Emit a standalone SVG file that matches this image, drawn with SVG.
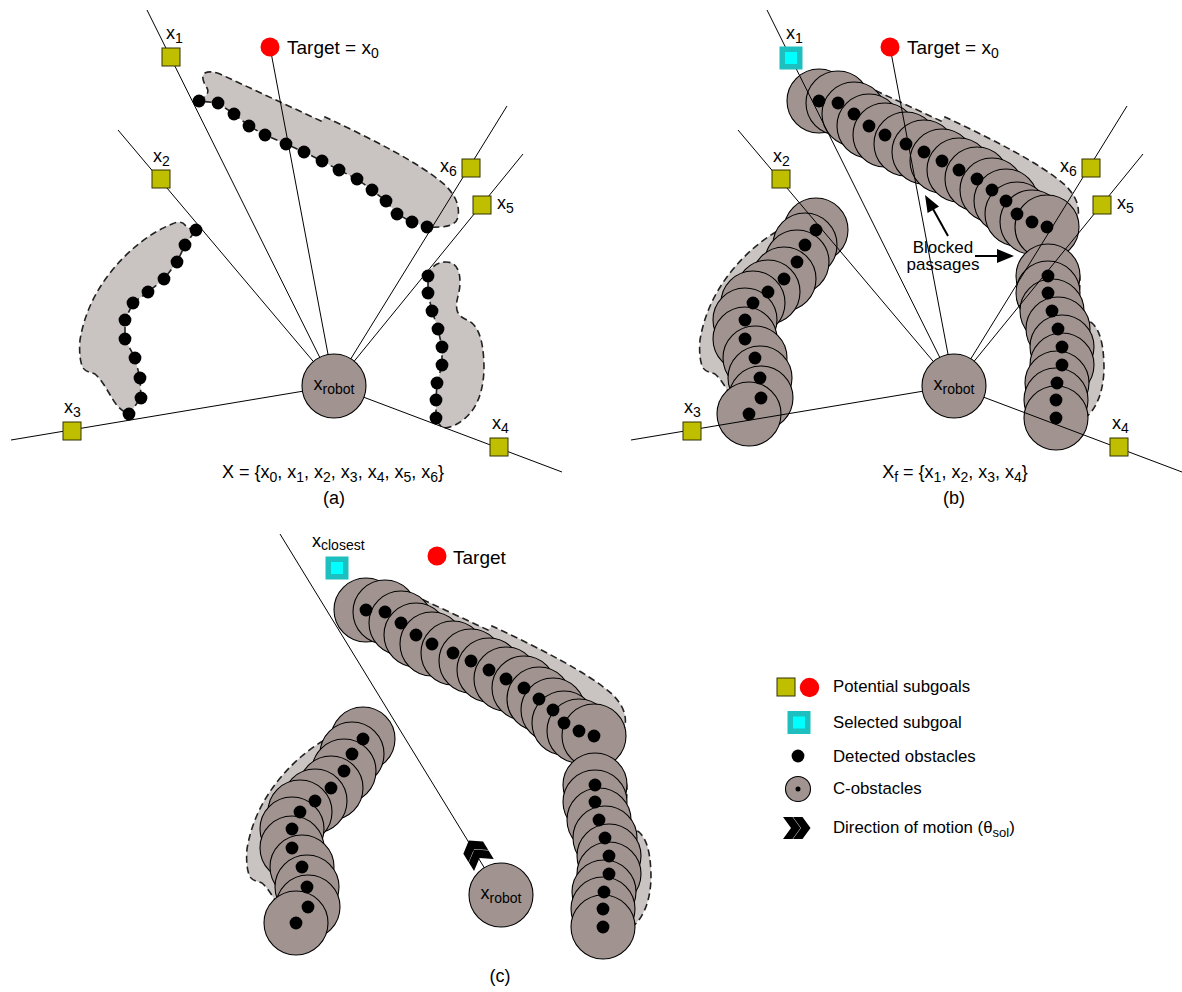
<svg xmlns="http://www.w3.org/2000/svg" width="1182" height="992" viewBox="0 0 1182 992">
<style>
text{font-family:"Liberation Sans",Arial,sans-serif;fill:#000}
.lbl{font-size:18px}
.sub{font-size:14px}
.leg{font-size:16.8px}
.ray{stroke:#000;stroke-width:1;fill:none}
.sg{fill:#bfbf00;stroke:#333300;stroke-width:1}
.sel{fill:#1dbfbf}
.selin{fill:#00ffff}
.tgt{fill:#ff0000}
.dots circle{fill:#000}
.cobs circle,.cob{fill:#a19490;stroke:#000;stroke-width:1.1}
.robot{fill:#a19490;stroke:#000;stroke-width:1.1}
.reg{fill:#c9c4c1;stroke:#222;stroke-width:1.6;stroke-dasharray:7 4}
.arr{stroke:#000;stroke-width:2;fill:none}
</style>
<defs>
<g id="regions">
<path class="reg" d="M199,101 C205,97 210,93 207,88 C203,82 201,76 205,73 C209,71 214,72 220,74 L321,121 L325,117 C370,138 420,163 445,185 C455,195 460,205 458,217 C456,225 448,228 427,227 L412,222 L397,214 L386,201 L372,190 L357,179 L339,170 L322,161 L304,152 L286,144 L265,135 L249,126 L234,114 L218,103 Z"/>
<path class="reg" d="M196,230 C191,229 187,228 185,225 C183,222 178,221 172,224 C150,233 128,250 110,273 C95,292 84,315 80,340 C79,352 80,362 83,368 C86,372 90,372 95,374 C102,380 107,390 112,398 C116,405 121,411 129,414 L141,398 L140,378 L135,358 L125,339 L125,320 L133,303 L148,292 L164,279 L177,262 L185,245 Z"/>
<path class="reg" d="M428,276 C430,268 436,262 446,262 C456,262 460,270 460,282 C460,295 455,300 457,310 C459,318 465,318 472,323 C480,330 484,345 484,370 C483,395 475,415 455,425 C447,429 440,430 436,418 L436,400 L437,383 L442,365 L442,347 L438,329 L432,311 L428,293 Z"/>
</g>
<g id="dots" class="dots">
<circle cx="199" cy="101" r="6.4"/><circle cx="218" cy="103" r="6.4"/><circle cx="234" cy="114" r="6.4"/><circle cx="249" cy="126" r="6.4"/><circle cx="265" cy="135" r="6.4"/><circle cx="286" cy="144" r="6.4"/><circle cx="304" cy="152" r="6.4"/><circle cx="322" cy="161" r="6.4"/><circle cx="339" cy="170" r="6.4"/><circle cx="357" cy="179" r="6.4"/><circle cx="372" cy="190" r="6.4"/><circle cx="386" cy="201" r="6.4"/><circle cx="397" cy="214" r="6.4"/><circle cx="412" cy="222" r="6.4"/><circle cx="427" cy="227" r="6.4"/>
<circle cx="196" cy="230" r="6.4"/><circle cx="185" cy="245" r="6.4"/><circle cx="177" cy="262" r="6.4"/><circle cx="164" cy="279" r="6.4"/><circle cx="148" cy="292" r="6.4"/><circle cx="133" cy="303" r="6.4"/><circle cx="125" cy="320" r="6.4"/><circle cx="125" cy="339" r="6.4"/><circle cx="135" cy="358" r="6.4"/><circle cx="140" cy="378" r="6.4"/><circle cx="141" cy="398" r="6.4"/><circle cx="129" cy="414" r="6.4"/>
<circle cx="428" cy="276" r="6.4"/><circle cx="428" cy="293" r="6.4"/><circle cx="432" cy="311" r="6.4"/><circle cx="438" cy="329" r="6.4"/><circle cx="442" cy="347" r="6.4"/><circle cx="442" cy="365" r="6.4"/><circle cx="437" cy="383" r="6.4"/><circle cx="436" cy="400" r="6.4"/><circle cx="436" cy="418" r="6.4"/>
</g>
<g id="cobs" class="cobs">
<circle cx="196" cy="230" r="32"/><circle cx="185" cy="245" r="32"/><circle cx="177" cy="262" r="32"/><circle cx="164" cy="279" r="32"/><circle cx="148" cy="292" r="32"/><circle cx="133" cy="303" r="32"/><circle cx="125" cy="320" r="32"/><circle cx="125" cy="339" r="32"/><circle cx="135" cy="358" r="32"/><circle cx="140" cy="378" r="32"/><circle cx="141" cy="398" r="32"/><circle cx="129" cy="414" r="32"/>
<circle cx="199" cy="101" r="32"/><circle cx="218" cy="103" r="32"/><circle cx="234" cy="114" r="32"/><circle cx="249" cy="126" r="32"/><circle cx="265" cy="135" r="32"/><circle cx="286" cy="144" r="32"/><circle cx="304" cy="152" r="32"/><circle cx="322" cy="161" r="32"/><circle cx="339" cy="170" r="32"/><circle cx="357" cy="179" r="32"/><circle cx="372" cy="190" r="32"/><circle cx="386" cy="201" r="32"/><circle cx="397" cy="214" r="32"/><circle cx="412" cy="222" r="32"/><circle cx="427" cy="227" r="32"/>
<circle cx="428" cy="276" r="32"/><circle cx="428" cy="293" r="32"/><circle cx="432" cy="311" r="32"/><circle cx="438" cy="329" r="32"/><circle cx="442" cy="347" r="32"/><circle cx="442" cy="365" r="32"/><circle cx="437" cy="383" r="32"/><circle cx="436" cy="400" r="32"/><circle cx="436" cy="418" r="32"/>
</g>
<g id="rays">
<line class="ray" x1="334" y1="386" x2="147" y2="10"/>
<line class="ray" x1="334" y1="386" x2="270" y2="47"/>
<line class="ray" x1="334" y1="386" x2="118" y2="130"/>
<line class="ray" x1="334" y1="386" x2="507" y2="106"/>
<line class="ray" x1="334" y1="386" x2="523" y2="154"/>
<line class="ray" x1="334" y1="386" x2="11" y2="440"/>
<line class="ray" x1="334" y1="386" x2="562" y2="472"/>
</g>
<path id="chev" d="M0,0 L9.5,0 L17.5,11 L9.5,22 L0,22 L8,11 Z M10,0 L19.5,0 L27.5,11 L19.5,22 L10,22 L18,11 Z" fill="#000"/>
</defs>

<!-- Panel (a) -->
<g id="panel-a">
<use href="#regions"/>
<g id="connectors-a"><use href="#rays"/></g>
<use href="#dots"/>
<g id="robot-a"><circle class="robot" cx="334" cy="386" r="32"/><text x="334" y="390" text-anchor="middle" class="lbl">x<tspan class="sub" dy="4">robot</tspan></text></g>
<g id="x1-a"><rect class="sg" x="162" y="48" width="18" height="18"/><text x="166" y="39" class="lbl">x<tspan class="sub" dy="4">1</tspan></text></g>
<g id="x2-a"><rect class="sg" x="152" y="170" width="18" height="18"/><text x="153" y="162" class="lbl">x<tspan class="sub" dy="4">2</tspan></text></g>
<g id="x6-a"><rect class="sg" x="462" y="159" width="18" height="18"/><text x="440" y="172" class="lbl">x<tspan class="sub" dy="4">6</tspan></text></g>
<g id="x5-a"><rect class="sg" x="473" y="196" width="18" height="18"/><text x="497" y="209" class="lbl">x<tspan class="sub" dy="4">5</tspan></text></g>
<g id="x3-a"><rect class="sg" x="63" y="422" width="18" height="18"/><text x="64" y="413" class="lbl">x<tspan class="sub" dy="4">3</tspan></text></g>
<g id="x4-a"><rect class="sg" x="490" y="438" width="18" height="18"/><text x="492" y="429" class="lbl">x<tspan class="sub" dy="4">4</tspan></text></g>
<g id="target-a"><circle class="tgt" cx="270" cy="47" r="9.5"/><text x="287" y="54" font-size="19">Target = x<tspan class="sub" dy="4">0</tspan></text></g>
<text x="333" y="478" text-anchor="middle" class="lbl">X = {x<tspan class="sub" dy="4">0</tspan><tspan dy="-4">, x</tspan><tspan class="sub" dy="4">1</tspan><tspan dy="-4">, x</tspan><tspan class="sub" dy="4">2</tspan><tspan dy="-4">, x</tspan><tspan class="sub" dy="4">3</tspan><tspan dy="-4">, x</tspan><tspan class="sub" dy="4">4</tspan><tspan dy="-4">, x</tspan><tspan class="sub" dy="4">5</tspan><tspan dy="-4">, x</tspan><tspan class="sub" dy="4">6</tspan><tspan dy="-4">}</tspan></text>
<text x="334" y="504" text-anchor="middle" class="lbl">(a)</text>
</g>

<!-- Panel (b) -->
<g id="panel-b">
<g transform="translate(620,0)">
<use href="#regions"/>
<use href="#cobs"/>
<g id="connectors-b"><use href="#rays"/></g>
<use href="#dots"/>
<g id="robot-b"><circle class="robot" cx="334" cy="386" r="32"/><text x="334" y="390" text-anchor="middle" class="lbl">x<tspan class="sub" dy="4">robot</tspan></text></g>
<g id="x1-b"><rect class="sel" x="159.5" y="46.5" width="23" height="23"/><rect class="selin" x="165" y="52" width="12" height="12"/><text x="166" y="39" class="lbl">x<tspan class="sub" dy="4">1</tspan></text></g>
<g id="x2-b"><rect class="sg" x="152" y="170" width="18" height="18"/><text x="153" y="162" class="lbl">x<tspan class="sub" dy="4">2</tspan></text></g>
<g id="x6-b"><rect class="sg" x="462" y="159" width="18" height="18"/><text x="440" y="172" class="lbl">x<tspan class="sub" dy="4">6</tspan></text></g>
<g id="x5-b"><rect class="sg" x="473" y="196" width="18" height="18"/><text x="497" y="209" class="lbl">x<tspan class="sub" dy="4">5</tspan></text></g>
<g id="x3-b"><rect class="sg" x="63" y="422" width="18" height="18"/><text x="64" y="413" class="lbl">x<tspan class="sub" dy="4">3</tspan></text></g>
<g id="x4-b"><rect class="sg" x="490" y="438" width="18" height="18"/><text x="492" y="429" class="lbl">x<tspan class="sub" dy="4">4</tspan></text></g>
<g id="target-b"><circle class="tgt" cx="270" cy="47" r="9.5"/><text x="287" y="54" font-size="19">Target = x<tspan class="sub" dy="4">0</tspan></text></g>
</g>
<g id="blocked">
<line class="arr" x1="948" y1="236" x2="933" y2="209"/>
<polygon points="925,195 939,206.6 927.6,213" fill="#000"/>
<line class="arr" x1="975" y1="256" x2="998" y2="256"/>
<polygon points="1014,256 997,249 997,263" fill="#000"/>
<text x="943" y="253" text-anchor="middle" font-size="17">Blocked</text>
<text x="943" y="270" text-anchor="middle" font-size="17">passages</text>
</g>
<text x="955" y="478" text-anchor="middle" class="lbl">X<tspan class="sub" dy="4">f</tspan><tspan dy="-4"> = {x</tspan><tspan class="sub" dy="4">1</tspan><tspan dy="-4">, x</tspan><tspan class="sub" dy="4">2</tspan><tspan dy="-4">, x</tspan><tspan class="sub" dy="4">3</tspan><tspan dy="-4">, x</tspan><tspan class="sub" dy="4">4</tspan><tspan dy="-4">}</tspan></text>
<text x="954" y="504" text-anchor="middle" class="lbl">(b)</text>
</g>

<!-- Panel (c) -->
<g id="panel-c">
<g transform="translate(167,509)">
<use href="#regions"/>
<use href="#cobs"/>
<g id="connectors-c"><line class="ray" x1="334" y1="386" x2="113" y2="25"/></g>
<use href="#dots"/>
<use href="#chev" transform="translate(309.5,344) rotate(-121.5) scale(1.05) translate(-13.5,-11)"/>
<g id="robot-c"><circle class="robot" cx="334" cy="386" r="32"/><text x="334" y="390" text-anchor="middle" class="lbl">x<tspan class="sub" dy="4">robot</tspan></text></g>
<g id="xclosest-c"><rect class="sel" x="158.5" y="47.5" width="23" height="23"/><rect class="selin" x="164" y="53" width="12" height="12"/><text x="145" y="38" class="lbl">x<tspan class="sub" dy="3">closest</tspan></text></g>
<g id="target-c"><circle class="tgt" cx="270" cy="47" r="9.5"/><text x="286" y="55" font-size="19">Target</text></g>
</g>
<text x="500" y="982" text-anchor="middle" class="lbl">(c)</text>
</g>

<!-- Legend -->
<g id="legend">
<g id="leg-potential"><rect class="sg" x="777" y="678" width="18" height="18"/><circle class="tgt" cx="809.5" cy="687.5" r="9.7"/><text x="833" y="692" class="leg">Potential subgoals</text></g>
<g id="leg-selected"><rect class="sel" x="787.5" y="711" width="23" height="23"/><rect class="selin" x="793" y="716.5" width="12" height="12"/><text x="833" y="728" class="leg">Selected subgoal</text></g>
<g id="leg-detected"><circle cx="798" cy="756" r="6.4" fill="#000"/><text x="833" y="762" class="leg">Detected obstacles</text></g>
<g id="leg-cobs"><circle class="cob" cx="798" cy="789" r="12.5"/><circle cx="798" cy="789" r="2.5" fill="#000"/><text x="833" y="794" class="leg">C-obstacles</text></g>
<g id="leg-dir"><use href="#chev" transform="translate(783,817)"/><text x="833" y="833" class="leg">Direction of motion (θ<tspan font-size="13" dy="4">sol</tspan><tspan dy="-4">)</tspan></text></g>
</g>
</svg>
